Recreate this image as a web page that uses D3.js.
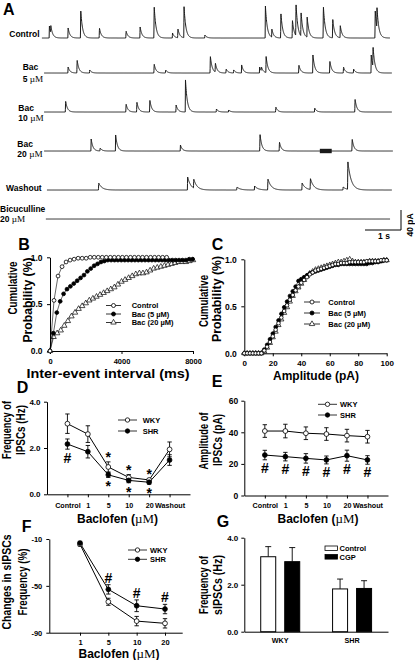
<!DOCTYPE html>
<html><head><meta charset="utf-8">
<script src="https://cdn.jsdelivr.net/npm/d3@7/dist/d3.min.js"></script>
<style>
html,body{margin:0;padding:0;background:#fff;}
svg{display:block;}
text{font-family:"Liberation Sans",Arial,Helvetica,sans-serif;font-weight:bold;fill:#000;}
.serif{font-family:"Liberation Serif","DejaVu Serif",serif;font-weight:normal;}
</style></head><body>
<svg id="fig" width="415" height="660"></svg>
<script>
// ================= DATA =================
// Panel A: recorded traces, events as [time (s), amplitude (pA)]
const traceLabels = [["Control"], ["Bac", "5 µM"], ["Bac", "10 µM"], ["Bac", "20 µM"], ["Washout"], ["Bicuculline", "20 µM"]];
const evControl = [[0.17,24],[0.21,14],[0.69,20],[1.04,56],[1.56,20],[2.30,14],[2.69,22],[3.08,64],[3.59,10],[3.74,18],[3.91,62],[4.49,6],[6.17,64],[6.35,16],[6.60,50],[6.92,36],[7.02,64],[7.16,48],[7.33,40],[7.78,64],[8.04,38],[8.25,24],[9.22,56],[9.27,40]];
const evBac5 = [[0.69,12],[0.94,26],[1.29,6],[3.08,18],[3.40,6],[4.64,34],[4.78,18],[5.08,8],[5.29,6],[5.51,16],[6.01,12],[6.06,8],[6.19,32],[7.10,16],[7.49,36],[7.96,24],[8.34,12],[8.62,8],[9.11,36],[9.16,40]];
const evBac10 = [[0.62,22],[2.30,16],[2.60,20],[2.96,24],[3.69,14],[3.95,64],[4.81,6],[5.15,4],[6.46,10],[7.54,8],[8.66,26]];
const evBac20 = [[1.33,24],[1.58,6],[2.01,32],[3.81,12],[6.02,34],[6.56,18],[8.58,24]];
const evWashout = [[1.54,14],[4.01,26],[4.18,18],[5.38,6],[5.87,8],[6.24,22],[7.19,14],[7.42,22],[8.33,6],[8.46,56]];
const evBicuculline = [];
const traceSpans = [[-0.03,9.64],[0.03,9.69],[0.03,9.69],[0.03,9.72],[0.11,9.69],[0.08,9.64]];
const traceTau = [0.05,0.05,0.05,0.05,0.09,0.05];
const bac20Artifact = [7.69, 8.02];
const scaleBarSec = 1, scaleBarPA = 40;

// Panel B: cumulative probability of inter-event interval
const bStepControl = 225, bStepBac5 = 190, bStepBac20 = 200; // ms per bin
const bControl = [0,0.54,0.80,0.90,0.95,0.97,0.98,0.99,0.99,0.99,1,1,1,1,1,1,1,1,1,1,1,1,1,1,1,1,1,1,1,1];
const bBac5 = [0,0.19,0.41,0.53,0.61,0.66,0.69,0.72,0.75,0.78,0.81,0.85,0.88,0.91,0.93,0.95,0.96,0.97,0.97,0.97,0.97,0.97,0.97,0.97,0.97,0.97,0.97,0.97,0.97,0.97,0.97,0.97,0.97,0.97,0.97,0.97,0.97,0.97,0.97,0.97,0.97,0.98,0.98];
const bBac20 = [0,0.15,0.19,0.22,0.27,0.32,0.37,0.41,0.45,0.48,0.51,0.54,0.56,0.58,0.60,0.62,0.64,0.66,0.68,0.71,0.74,0.76,0.78,0.80,0.82,0.83,0.83,0.84,0.86,0.88,0.89,0.90,0.91,0.92,0.93,0.94,0.95,0.95,0.95,0.96,0.97];
const bLegend = ["Control", "Bac (5 µM)", "Bac (20 µM)"];

// Panel C: cumulative probability of amplitude (2 pA bins)
const cStep = 2;
const cControl = [0,0,0,0,0,0,0,0.03,0.07,0.12,0.18,0.25,0.32,0.38,0.45,0.51,0.57,0.62,0.67,0.71,0.75,0.78,0.81,0.84,0.86,0.88,0.89,0.90,0.91,0.92,0.93,0.94,0.95,0.95,0.96,0.96,0.96,0.97,0.97,0.97,0.97,0.97,0.97,0.98,0.98,0.98,0.98,0.98,0.99,0.99,0.99];
const cBac5 = [0,0,0,0,0,0,0,0.04,0.09,0.15,0.21,0.28,0.35,0.42,0.49,0.55,0.61,0.66,0.71,0.77,0.79,0.81,0.83,0.85,0.86,0.87,0.88,0.89,0.90,0.91,0.92,0.93,0.94,0.94,0.95,0.95,0.95,0.95,0.95,0.95,0.95,0.95,0.95,0.95,0.96,0.96,0.97,0.97,0.98,0.99,0.99];
const cBac20 = [0,0,0,0,0,0,0,0.02,0.06,0.11,0.17,0.23,0.30,0.36,0.43,0.49,0.55,0.61,0.66,0.70,0.74,0.78,0.82,0.85,0.87,0.89,0.90,0.91,0.92,0.93,0.94,0.95,0.96,0.97,0.97,0.98,0.99,1.00,0.98,0.97,0.97,0.97,0.97,0.97,0.98,0.98,0.98,0.98,0.98,0.99,0.99];

// Panel D: frequency of IPSCs (Hz)
const dCats = ["Control","1","5","10","20","Washout"];
const dWKY = [3.05,2.60,1.18,0.73,0.62,1.94];
const dWKYerr = [0.42,0.36,0.22,0.12,0.06,0.32];
const dSHR = [2.17,1.84,0.84,0.60,0.52,1.48];
const dSHRerr = [0.22,0.27,0.11,0.10,0.08,0.23];
const dHashCats = ["Control"];
const dStarCats = ["5","10","20"];

// Panel E: amplitude of IPSCs (pA)
const eCats = ["Control","1","5","10","20","Washout"];
const eWKY = [40.8,40.8,39.4,38.9,37.9,37.2];
const eWKYerr = [4.0,4.3,4.0,4.0,4.0,4.0];
const eSHR = [25.6,24.6,23.5,22.5,25.2,22.5];
const eSHRerr = [3.0,2.7,3.0,2.5,3.5,2.7];
const eHashCats = ["Control","1","5","10","20","Washout"];

// Panel F: changes in sIPSCs frequency (%)
const fCats = ["1","5","10","20"];
const fWKY = [-14.5,-63.6,-80.1,-82.0];
const fWKYerr = [1.5,3.0,4.0,4.0];
const fSHR = [-13.5,-53.0,-67.0,-69.8];
const fSHRerr = [1.5,4.0,5.0,4.0];
const fHashCats = ["5","10","20"];

// Panel G: frequency of sIPSCs (Hz)
const gGroups = ["WKY","SHR"];
const gKeys = ["Control","CGP"];
const gControl = [3.19,1.82];
const gControlErr = [0.43,0.42];
const gCGP = [2.98,1.84];
const gCGPErr = [0.60,0.33];

const seriesNames = ["WKY","SHR"];

// ================= DRAWING =================
const svg = d3.select("#fig");
const INK = "#000";

// text with "µM" in a serif face; parts laid out side by side as separate texts
function rich(g, x, y, txt, size, anchor) {
  const grp = g.append("g");
  const parts = [];
  txt.split("µM").forEach((p, i, arr) => {
    if (p.length) parts.push([p, false]);
    if (i < arr.length - 1) parts.push(["µM", true]);
  });
  let cur = 0;
  parts.forEach(([s, serif]) => {
    const t = grp.append("text").attr("x", cur).attr("y", 0).attr("font-size", serif ? size * 1.08 : size)
      .attr("xml:space", "preserve").style("white-space", "pre").text(s);
    if (serif) t.attr("class", "serif");
    cur += t.node().getComputedTextLength();
  });
  const shift = anchor === "middle" ? -cur / 2 : anchor === "end" ? -cur : 0;
  grp.attr("transform", `translate(${x + shift},${y})`);
  return grp;
}
function htitle(cx, baseline, txt, size, len) {
  svg.append("text").attr("x", cx).attr("y", baseline).attr("font-size", size).attr("text-anchor", "middle")
    .attr("textLength", len).attr("lengthAdjust", "spacingAndGlyphs").text(txt);
}
function vtitle(cx, cy, txt, size, len) {
  svg.append("text").attr("transform", `translate(${cx},${cy}) rotate(-90)`)
    .attr("text-anchor", "middle").attr("dominant-baseline", "central")
    .attr("font-size", size).attr("textLength", len).attr("lengthAdjust", "spacingAndGlyphs").text(txt);
}
function letter(x, y, l) {
  svg.append("text").attr("x", x).attr("y", y).attr("font-size", 16).text(l);
}
function styleAxis(sel, fs) {
  sel.attr("font-family", null).attr("font-size", null);
  sel.selectAll("text").attr("font-size", fs).attr("fill", INK);
  sel.selectAll("path,line").attr("stroke", INK).attr("stroke-width", 1);
}
function marker(g, x, y, type, r) {
  if (type === "tri") {
    g.append("path").attr("d", d3.symbol(d3.symbolTriangle, r * r * 3.2)())
      .attr("transform", `translate(${x},${y})`).attr("fill", "#fff").attr("stroke", INK).attr("stroke-width", 0.7);
  } else {
    g.append("circle").attr("cx", x).attr("cy", y).attr("r", r)
      .attr("fill", type === "filled" ? INK : "#fff").attr("stroke", INK).attr("stroke-width", 0.8);
  }
}

// ---------- Panel A ----------
letter(3, 15, "A");
const tScale = d3.scaleLinear().domain([0, 9.7]).range([43, 392.2]);
const ampScale = d3.scaleLinear().domain([0, 40]).range([0, 20]);
const traceBase = [38, 73, 112, 151, 190, 219];
const traceEvents = [evControl, evBac5, evBac10, evBac20, evWashout, evBicuculline];
function traceSamples(events, span, tau) {
  const pts = [], rise = 0.008, dt = 0.004;
  for (let t = span[0]; t <= span[1]; t += dt) {
    let v = 0;
    for (const [t0, a] of events) {
      const d = t - t0;
      if (d < 0) continue;
      v += d < rise ? a * d / rise : a * Math.exp(-(d - rise) / tau);
    }
    pts.push([t, v]);
  }
  return pts;
}
const gA = svg.append("g");
traceEvents.forEach((ev, i) => {
  const base = traceBase[i];
  const line = d3.line().x(d => tScale(d[0])).y(d => base - ampScale(d[1]));
  gA.append("path").attr("d", line(traceSamples(ev, traceSpans[i], traceTau[i])))
    .attr("fill", "none").attr("stroke", "#1a1a1a").attr("stroke-width", 1);
});
gA.append("rect").attr("x", tScale(bac20Artifact[0])).attr("width", tScale(bac20Artifact[1]) - tScale(bac20Artifact[0]))
  .attr("y", traceBase[3] - 2.2).attr("height", 4.4).attr("fill", "#1a1a1a");
const labelPos = [
  {x: 39.5, a: "end", y: [36.7]},
  {x: 22.7, a: "start", y: [70, 81.7]},
  {x: 18.3, a: "start", y: [111, 121]},
  {x: 17.3, a: "start", y: [146.7, 156.7]},
  {x: 41.7, a: "end", y: [191]},
  {x: 0, a: "start", y: [211.7, 222]}
];
traceLabels.forEach((lines, i) => {
  lines.forEach((s, j) => rich(gA, labelPos[i].x, labelPos[i].y[j], s, 8.5, labelPos[i].a));
});
// scale bar
const sbX = 401, sbY = 230;
const sbW = tScale(scaleBarSec) - tScale(0), sbH = ampScale(scaleBarPA);
gA.append("path").attr("d", `M${sbX - sbW},${sbY}H${sbX}V${sbY - sbH}`).attr("fill", "none").attr("stroke", INK).attr("stroke-width", 1);
gA.append("text").attr("x", sbX - sbW / 2 + 1).attr("y", 239).attr("text-anchor", "middle").attr("font-size", 8.5).text(scaleBarSec + " s");
gA.append("text").attr("transform", `translate(409.5,${sbY - sbH / 2 + 5}) rotate(-90)`).attr("text-anchor", "middle")
  .attr("dominant-baseline", "central").attr("font-size", 8.5).text(scaleBarPA + " pA");

// ---------- Panel B ----------
letter(18.3, 250, "B");
const xB = d3.scaleLinear().domain([0, 8000]).range([50, 193]);
const yB = d3.scaleLinear().domain([0, 1]).range([351, 257.3]);
const gB = svg.append("g");
styleAxis(gB.append("g").attr("transform", "translate(50,0)")
  .call(d3.axisLeft(yB).tickValues([0, 0.5, 1]).tickFormat(d3.format(".1f")).tickSize(3).tickSizeOuter(0).tickPadding(4.5)), 8.5);
styleAxis(gB.append("g").attr("transform", "translate(0,351)")
  .call(d3.axisBottom(xB).tickValues([0, 4000, 8000]).tickFormat(d3.format("d")).tickSize(3).tickSizeOuter(0).tickPadding(4.5)), 7.5);
function cumSeries(g, vals, step, x, y, type, r) {
  const pts = vals.map((v, i) => [i * step, v]);
  g.append("path").attr("d", d3.line().x(d => x(d[0])).y(d => y(d[1]))(pts))
    .attr("fill", "none").attr("stroke", INK).attr("stroke-width", 0.6);
  pts.forEach(p => marker(g, x(p[0]), y(p[1]), type, r));
}
cumSeries(gB, bBac20, bStepBac20, xB, yB, "tri", 2.0);
cumSeries(gB, bBac5, bStepBac5, xB, yB, "filled", 1.9);
cumSeries(gB, bControl, bStepControl, xB, yB, "open", 1.9);
function legendItem(g, x1, x2, y, type, label, tx, r) {
  g.append("line").attr("x1", x1).attr("x2", x2).attr("y1", y).attr("y2", y).attr("stroke", INK).attr("stroke-width", 0.8);
  marker(g, (x1 + x2) / 2, y, type, r);
  g.append("text").attr("x", tx).attr("y", y + 2.7).attr("font-size", 7.5).text(label);
}
const legTypes = ["open", "filled", "tri"];
[305.5, 314, 322.5].forEach((y, i) => legendItem(gB, 106, 121, y, legTypes[i], bLegend[i], 131.7, 2));
vtitle(13, 288, "Cumulative", 12.5, 53);
vtitle(27.5, 300, "Probability (%)", 12.5, 85);
htitle(108, 378, "Inter-event interval (ms)", 12, 163);

// ---------- Panel C ----------
letter(211.7, 250, "C");
const xC = d3.scaleLinear().domain([0, 100]).range([244.3, 386.7]);
const yC = d3.scaleLinear().domain([0, 1]).range([353.3, 259.3]);
const gC = svg.append("g");
styleAxis(gC.append("g").attr("transform", "translate(244.3,0)")
  .call(d3.axisLeft(yC).tickValues([0, 0.5, 1]).tickFormat(d3.format(".1f")).tickSize(3).tickSizeOuter(0).tickPadding(4.5)), 8.5);
styleAxis(gC.append("g").attr("transform", "translate(0,353.3)")
  .call(d3.axisBottom(xC).tickValues([0, 20, 40, 60, 80, 100]).tickSize(3).tickSizeOuter(0).tickPadding(4)), 8);
cumSeries(gC, cBac20, cStep, xC, yC, "tri", 1.9);
cumSeries(gC, cBac5, cStep, xC, yC, "filled", 1.8);
cumSeries(gC, cControl, cStep, xC, yC, "open", 1.8);
[302, 313, 324].forEach((y, i) => legendItem(gC, 304, 320, y, legTypes[i], bLegend[i], 328.3, 2));
vtitle(203.5, 301, "Cumulative", 12.5, 52);
vtitle(217, 299, "Probability (%)", 12.5, 86);
htitle(316, 380, "Amplitude (pA)", 12, 86);

// ---------- line panels helper ----------
function linePanel(g, cats, x, y, series) {
  series.forEach(s => {
    cats.forEach((c, i) => {
      const cx = x(c), lo = y(s.vals[i] - s.errs[i]), hi = y(s.vals[i] + s.errs[i]);
      g.append("path").attr("d", `M${cx},${lo}V${hi}M${cx - 2.2},${lo}H${cx + 2.2}M${cx - 2.2},${hi}H${cx + 2.2}`)
        .attr("stroke", INK).attr("stroke-width", 0.9).attr("fill", "none");
    });
  });
  series.forEach(s => {
    g.append("path").attr("d", d3.line().x((d, i) => x(cats[i])).y(d => y(d))(s.vals))
      .attr("fill", "none").attr("stroke", INK).attr("stroke-width", 1);
  });
  series.forEach(s => cats.forEach((c, i) => marker(g, x(c), y(s.vals[i]), s.type, 2.4)));
}
function sym(g, x, y, ch) {
  g.append("text").attr("x", x).attr("y", y).attr("text-anchor", "middle").attr("font-size", 14).text(ch);
}

// ---------- Panel D ----------
letter(16.7, 393.3, "D");
const xD = d3.scalePoint().domain(dCats).range([47, 190]).padding(1);
const yD = d3.scaleLinear().domain([0, 4]).range([494.3, 401.7]);
const gD = svg.append("g");
styleAxis(gD.append("g").attr("transform", "translate(47,0)")
  .call(d3.axisLeft(yD).tickValues([0, 2, 4]).tickSize(3).tickSizeOuter(0).tickPadding(3.5)), 8);
styleAxis(gD.append("g").attr("transform", "translate(0,494.3)")
  .call(d3.axisBottom(xD).tickSize(3).tickSizeOuter(0).tickPadding(5.5)), 7.2);
linePanel(gD, dCats, xD, yD, [
  {vals: dWKY, errs: dWKYerr, type: "open"},
  {vals: dSHR, errs: dSHRerr, type: "filled"}]);
dHashCats.forEach(c => { const i = dCats.indexOf(c); sym(gD, xD(c), yD(dSHR[i] - dSHRerr[i]) + 14, "#"); });
dStarCats.forEach(c => {
  const i = dCats.indexOf(c);
  sym(gD, xD(c), yD(dWKY[i] + dWKYerr[i]) + 0.5, "*");
  sym(gD, xD(c), yD(dSHR[i] - dSHRerr[i]) + 14, "*");
});
legendItem(gD, 118, 137, 420, "open", seriesNames[0], 142.7, 2.2);
legendItem(gD, 118, 137, 431, "filled", seriesNames[1], 142.7, 2.2);
vtitle(7, 430, "Frequency of", 12.5, 58);
vtitle(21, 430, "IPSCs (Hz)", 12.5, 50);
rich(svg, 117.5, 522.5, "Baclofen (µM)", 12, "middle");

// ---------- Panel E ----------
letter(211.7, 386.7, "E");
const xE = d3.scalePoint().domain(eCats).range([244.3, 388]).padding(1);
const yE = d3.scaleLinear().domain([0, 60]).range([495.5, 400.7]);
const gE = svg.append("g");
styleAxis(gE.append("g").attr("transform", "translate(244.3,0)")
  .call(d3.axisLeft(yE).tickValues([0, 20, 40, 60]).tickSize(3).tickSizeOuter(0).tickPadding(3)), 8.5);
styleAxis(gE.append("g").attr("transform", "translate(0,495.5)")
  .call(d3.axisBottom(xE).tickSize(3).tickSizeOuter(0).tickPadding(4.5)), 7.2);
linePanel(gE, eCats, xE, yE, [
  {vals: eWKY, errs: eWKYerr, type: "open"},
  {vals: eSHR, errs: eSHRerr, type: "filled"}]);
eHashCats.forEach(c => { const i = eCats.indexOf(c); sym(gE, xE(c), yE(eSHR[i] - eSHRerr[i]) + 13.2, "#"); });
legendItem(gE, 318, 337, 404.3, "open", seriesNames[0], 340, 2.2);
legendItem(gE, 318, 337, 415, "filled", seriesNames[1], 340, 2.2);
vtitle(204, 441, "Amplitude of", 12.5, 57);
vtitle(217.5, 440, "IPSCs (pA)", 12.5, 52);
rich(svg, 318, 522.5, "Baclofen (µM)", 12, "middle");

// ---------- Panel F ----------
letter(21.7, 531.7, "F");
const xF = d3.scalePoint().domain(fCats).range([80, 165]);
const yF = d3.scaleLinear().domain([-90, -10]).range([632.7, 539]);
const gF = svg.append("g");
styleAxis(gF.append("g").attr("transform", "translate(49.3,0)")
  .call(d3.axisLeft(yF).tickValues([-90, -50, -10]).tickFormat(d => String(d)).tickSize(3).tickSizeOuter(0).tickPadding(4)), 7.5);
const fxAxis = gF.append("g").attr("transform", "translate(0,632.7)")
  .call(d3.axisBottom(xF).tickSize(3).tickSizeOuter(0).tickPadding(3.5));
fxAxis.select(".domain").attr("d", "M49.3,0.5H182.7");
styleAxis(fxAxis, 7.5);
linePanel(gF, fCats, xF, yF, [
  {vals: fWKY, errs: fWKYerr, type: "open"},
  {vals: fSHR, errs: fSHRerr, type: "filled"}]);
fHashCats.forEach(c => { const i = fCats.indexOf(c); sym(gF, xF(c), yF(fSHR[i] + fSHRerr[i]) - 2, "#"); });
legendItem(gF, 128, 147, 550, "open", seriesNames[0], 150, 2.2);
legendItem(gF, 128, 147, 559.3, "filled", seriesNames[1], 150, 2.2);
vtitle(7, 582, "Changes in sIPSCs", 12.5, 95);
vtitle(22.5, 582, "Frequency (%)", 12.5, 67);
rich(svg, 119, 657.5, "Baclofen (µM)", 12, "middle");

// ---------- Panel G ----------
letter(216.7, 526.7, "G");
const x0G = d3.scaleBand().domain(gGroups).range([244.3, 388]).padding(0);
const x1G = d3.scaleBand().domain(gKeys).range([-19.5, 19.5]).paddingInner(0.375).paddingOuter(0);
const yG = d3.scaleLinear().domain([0, 4]).range([631.7, 537.7]);
const gG = svg.append("g");
styleAxis(gG.append("g").attr("transform", "translate(244.3,0)")
  .call(d3.axisLeft(yG).tickValues([0, 2, 4]).tickSize(3).tickSizeOuter(0).tickPadding(3)), 8);
styleAxis(gG.append("g").attr("transform", "translate(0,631.7)")
  .call(d3.axisBottom(x0G).tickSize(0).tickSizeOuter(0).tickPadding(6.5)), 7.2);
const gVals = {Control: gControl, CGP: gCGP}, gErrs = {Control: gControlErr, CGP: gCGPErr};
gGroups.forEach((grp, gi) => {
  gKeys.forEach(k => {
    const v = gVals[k][gi], e = gErrs[k][gi];
    const bx = x0G(grp) + x0G.bandwidth() / 2 + x1G(k), bw = x1G.bandwidth();
    const cx = bx + bw / 2;
    gG.append("path").attr("d", `M${cx},${yG(v)}V${yG(v + e)}M${cx - 3},${yG(v + e)}H${cx + 3}`)
      .attr("stroke", INK).attr("stroke-width", 0.9).attr("fill", "none");
    gG.append("rect").attr("x", bx).attr("y", yG(v)).attr("width", bw).attr("height", yG(0) - yG(v))
      .attr("fill", k === "CGP" ? INK : "#fff").attr("stroke", INK).attr("stroke-width", 1);
  });
});
gKeys.forEach((k, i) => {
  const y = 546 + i * 8.5;
  gG.append("rect").attr("x", 325).attr("y", y).attr("width", 12.5).attr("height", 4.6)
    .attr("fill", k === "CGP" ? INK : "#fff").attr("stroke", INK).attr("stroke-width", 0.8);
  gG.append("text").attr("x", 339.5).attr("y", y + 5).attr("font-size", 7.5).text(k);
});
vtitle(204, 585, "Frequency of", 12.5, 58);
vtitle(217.5, 585, "sIPSCs (Hz)", 12.5, 60);
</script>
</body></html>
